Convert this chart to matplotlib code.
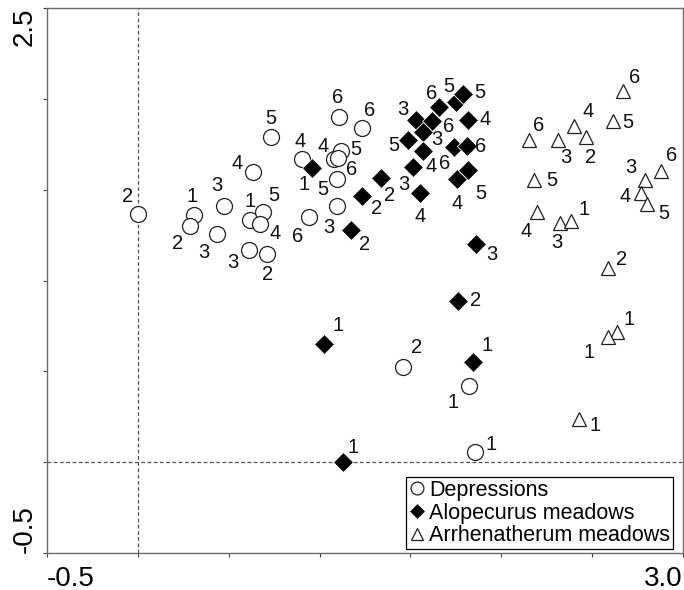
import matplotlib
matplotlib.use("Agg")
import matplotlib.pyplot as plt

plt.rcParams['font.family'] = ['Liberation Sans', 'DejaVu Sans']

# Depressions (open circles)
dep_x = [0.00, 0.311, 0.287, 0.476, 0.434, 0.617, 0.690, 0.672, 0.612, 0.712, 0.632, 0.733,
         0.903, 0.942, 1.107, 1.234, 1.118, 1.081, 1.103, 1.094, 1.094, 1.458, 1.823, 1.857]
dep_y = [1.365, 1.361, 1.302, 1.412, 1.258, 1.332, 1.376, 1.313, 1.168, 1.146, 1.596, 1.788,
         1.667, 1.348, 1.898, 1.838, 1.711, 1.669, 1.673, 1.559, 1.410, 0.524, 0.420, 0.058]
dep_lab = ['2', '1', '2', '3', '3', '1', '5', '4', '3', '2', '4', '5',
           '4', '6', '6', '6', '5', '4', '6', '5', '3', '2', '1', '1']

# Alopecurus meadows (filled diamonds)
alo_x = [0.960, 1.338, 1.232, 1.173, 1.659, 1.749, 1.791, 1.529, 1.621, 1.571, 1.819, 1.485,
         1.571, 1.740, 1.810, 1.516, 1.755, 1.819, 1.553, 1.859, 1.764, 1.024, 1.843, 1.131]
alo_y = [1.619, 1.563, 1.467, 1.278, 1.957, 1.981, 2.027, 1.884, 1.880, 1.819, 1.884, 1.774,
         1.713, 1.733, 1.740, 1.627, 1.557, 1.608, 1.480, 1.201, 0.889, 0.649, 0.553, 0.000]
alo_lab = ['1', '2', '2', '2', '6', '5', '5', '3', '6', '3', '4', '5',
           '4', '6', '6', '3', '4', '5', '4', '3', '2', '1', '1', '1']

# Arrhenatherum meadows (open triangles)
arr_x = [2.668, 2.613, 2.400, 2.465, 2.314, 2.153, 2.182, 2.198, 2.323, 2.382, 2.879, 2.791,
         2.767, 2.800, 2.589, 2.635, 2.586, 2.430]
arr_y = [2.045, 1.880, 1.851, 1.788, 1.774, 1.774, 1.553, 1.379, 1.315, 1.329, 1.605, 1.553,
         1.483, 1.421, 1.067, 0.718, 0.688, 0.236]
arr_lab = ['6', '5', '4', '2', '3', '6', '5', '4', '3', '1', '6', '3',
           '4', '5', '2', '1', '1', '1']

# label offsets in pixels (dx right, dy down)
dep_off = [(-10, -18), (-2, -18), (-12, 18), (-8, -20), (-13, 19), (0, -19), (11, -17), (15, 10),
           (-16, 13), (0, 21), (-16, -9), (0, -19), (-2, -18), (-11, 19), (-1, -20), (8, -18),
           (15, -2), (-11, -12), (13, 11), (-14, 11), (-8, 21), (14, -19), (-16, 17), (16, -7)]
alo_off = [(-8, 16), (9, 17), (15, 13), (14, 15), (-8, -13), (-7, -16), (17, -1), (-13, -10),
           (16, 6), (13, 8), (17, 0), (-14, 6), (8, 16), (-9, 16), (14, 0), (-10, 18),
           (0, 24), (12, 23), (0, 23), (16, 11), (17, 0), (14, -19), (14, -16), (10, -15)]
arr_off = [(12, -13), (15, 2), (14, -14), (5, 20), (7, 18), (10, -14), (17, 0), (-11, 20),
           (-3, 19), (13, -11), (11, -15), (-14, -13), (-16, 4), (17, 9), (13, -9), (12, -12),
           (-19, 15), (16, 6)]

fig = plt.figure(figsize=(6.84, 5.90), dpi=100)
ax = fig.add_axes([47 / 684, 37 / 590, 636 / 684, 545 / 590])

ax.axvline(0, color='#505050', lw=0.9, ls=(0, (3, 2)), zorder=1)
ax.axhline(0, color='#505050', lw=0.9, ls=(0, (3, 2)), zorder=1)

ax.plot(dep_x, dep_y, 'o', ms=11.5, mfc='white', mec='#202020', mew=0.9, ls='none',
        label='Depressions', zorder=3)
ax.plot(alo_x, alo_y, 'D', ms=10, mfc='black', mec='white', mew=0.6, ls='none',
        label='Alopecurus meadows', zorder=3)
ax.plot(arr_x, arr_y, '^', ms=10, mfc='white', mec='#202020', mew=0.9, ls='none',
        label='Arrhenatherum meadows', zorder=3)

for xs, ys, labs, offs in [(dep_x, dep_y, dep_lab, dep_off),
                           (alo_x, alo_y, alo_lab, alo_off),
                           (arr_x, arr_y, arr_lab, arr_off)]:
    for x, y, t, (dx, dy) in zip(xs, ys, labs, offs):
        ax.annotate(t, (x, y), xytext=(dx, -dy), textcoords='offset pixels',
                    ha='center', va='center', fontsize=14.5, color='#111111', zorder=4)

ax.set_xlim(-0.5, 3.0)
ax.set_ylim(-0.5, 2.5)

xt = [-0.5, 0, 0.5, 1.0, 1.5, 2.0, 2.5, 3.0]
yt = [-0.5, 0, 0.5, 1.0, 1.5, 2.0, 2.5]
ax.set_xticks(xt)
ax.set_xticklabels(['-0.5', '', '', '', '', '', '', '3.0'], fontsize=20)
ax.set_yticks(yt)
ax.set_yticklabels(['-0.5', '', '', '', '', '', '2.5'], fontsize=20, rotation=90)
ax.get_xticklabels()[0].set_ha('left')
ax.get_xticklabels()[-1].set_ha('right')
ax.get_yticklabels()[0].set_va('bottom')
ax.get_yticklabels()[-1].set_va('top')
ax.tick_params(axis='both', direction='out', length=3, width=0.8, color='#404040', pad=6)
ax.tick_params(axis='y', pad=4)

for s in ax.spines.values():
    s.set_color('#6a6a6a')
    s.set_linewidth(1.0)

leg = ax.legend(loc='lower right', bbox_to_anchor=(626 / 636, 4 / 545), borderaxespad=0,
                fontsize=15.5, numpoints=1, handlelength=0.7, handletextpad=0.25,
                borderpad=0.12, labelspacing=0.08, fancybox=False, framealpha=1,
                edgecolor='black', markerscale=0.8)
leg.get_frame().set_linewidth(0.9)

fig.savefig('out.png', dpi=100)
